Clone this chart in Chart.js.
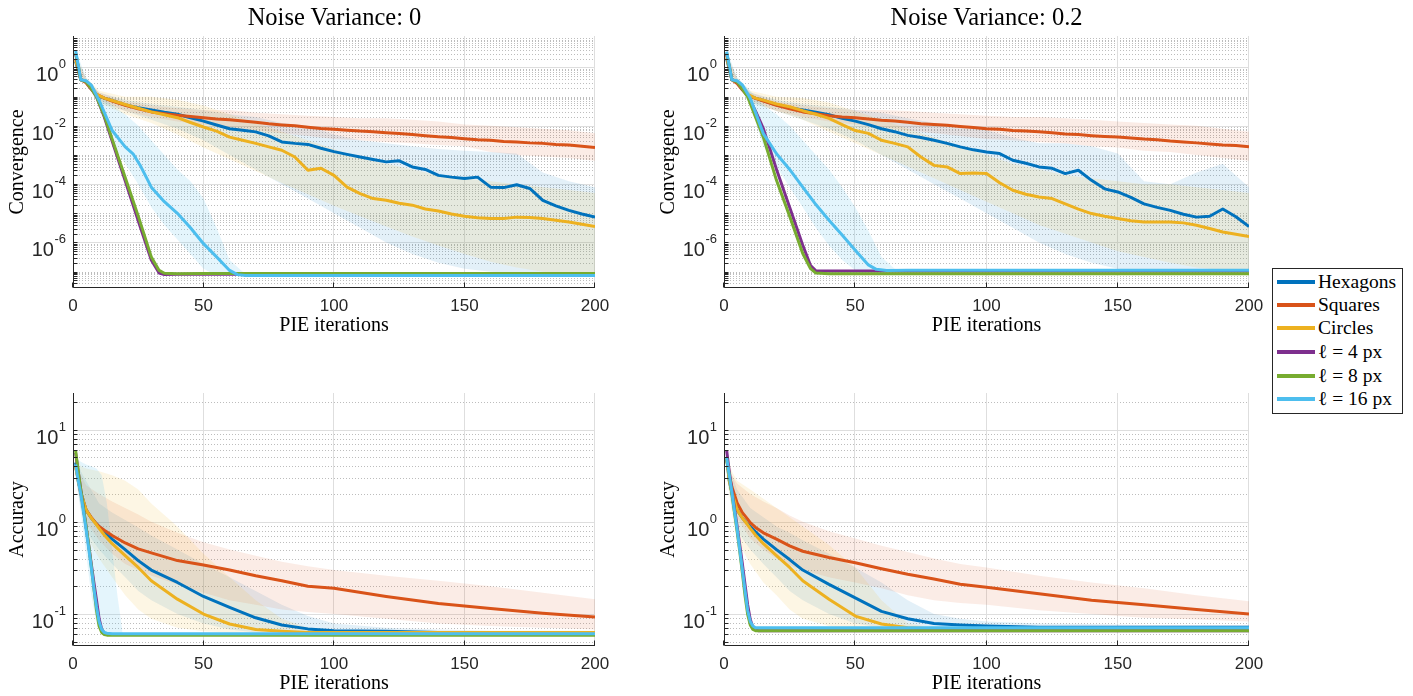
<!DOCTYPE html>
<html>
<head>
<meta charset="utf-8">
<script src="https://cdn.jsdelivr.net/npm/chart.js@4.4.1/dist/chart.umd.min.js"></script>
<style>
  html, body { margin: 0; background: #fff; }
  #page { position: relative; width: 1413px; height: 696px; overflow: hidden; }
  canvas { position: absolute; }
  .ttl { position: absolute; top: 3px; width: 525px; text-align: center; font-family: "Liberation Serif", "Times New Roman", serif; font-size: 24.5px; line-height: 28px; color: #000; }
  #legend { position: absolute; left: 1272px; top: 268px; width: 129px; height: 144px; border: 1px solid #262626; background: #fff; font-family: "Liberation Serif", "Times New Roman", serif; font-size: 19.5px; color: #000; }
  .row { position: absolute; left: 4px; height: 22px; display: flex; align-items: center; white-space: nowrap; }
  .sw { display: inline-block; width: 38px; height: 4px; margin-right: 3px; }
</style>
</head>
<body>
<div id="page">
  <canvas id="convNoise0" width="640" height="345" style="left:0;top:0"></canvas>
  <canvas id="convNoise2" width="630" height="345" style="left:640px;top:0"></canvas>
  <canvas id="accNoise0" width="640" height="336" style="left:0;top:360px"></canvas>
  <canvas id="accNoise2" width="630" height="336" style="left:640px;top:360px"></canvas>
  <div class="ttl" style="left:72px">Noise Variance: 0</div>
  <div class="ttl" style="left:724px">Noise Variance: 0.2</div>
  <div id="legend"></div>
</div>
<script>
// ---------- data ----------
const seriesNames = ["Hexagons", "Squares", "Circles", "\u2113 = 4 px", "\u2113 = 8 px", "\u2113 = 16 px"];

// convergence panels (top row)
const iterC = [1, 3, 5, 7, 9, 12, 15, 20, 25, 30, 35, 40, 45, 50, 55, 60, 65, 70, 75, 80, 85, 90, 95, 100,
  105, 110, 115, 120, 125, 130, 135, 140, 145, 150, 155, 160, 165, 170, 175, 180, 185, 190, 195, 200];
const lineIt = [1, 3, 5, 7, 9, 12, 15, 20, 25, 30, 33, 35, 40, 50, 75, 100, 125, 150, 175, 200];
const bandIt = [1, 5, 10, 20, 30, 40, 50, 60, 70, 80, 90, 100, 110, 120, 130, 140, 150, 160, 170, 180, 190, 200];
const l16BandIt = [1, 5, 10, 15, 20, 25, 30, 35, 40, 45, 50, 55, 60, 65, 70];

// noise variance 0
const hexConv0 = [1.6, 0.38, 0.32, 0.19, 0.11, 0.089, 0.074, 0.052, 0.042, 0.035, 0.029, 0.025, 0.019, 0.0145,
  0.0107, 0.0079, 0.0071, 0.0062, 0.0045, 0.0028, 0.0025, 0.0023, 0.0017, 0.0013, 0.00105, 0.00085, 0.0007,
  0.00058, 0.00063, 0.00039, 0.00032, 0.0002, 0.000174, 0.000155, 0.000174, 7.9e-5, 7.6e-5, 9.5e-5, 7.1e-5,
  2.8e-5, 1.8e-5, 1.26e-5, 9.5e-6, 7.4e-6];
const sqConv0 = [2.0, 0.38, 0.30, 0.18, 0.12, 0.089, 0.071, 0.05, 0.038, 0.030, 0.026, 0.023, 0.021, 0.019,
  0.017, 0.016, 0.0145, 0.0132, 0.0117, 0.0107, 0.01, 0.0089, 0.0081, 0.0076, 0.0071, 0.0066, 0.0063, 0.0058,
  0.0054, 0.005, 0.0046, 0.0042, 0.004, 0.0036, 0.0033, 0.0032, 0.0029, 0.0028, 0.0026, 0.0025, 0.0023,
  0.0022, 0.002, 0.0018];
const cirConv0 = [1.8, 0.38, 0.32, 0.19, 0.12, 0.089, 0.074, 0.054, 0.04, 0.03, 0.024, 0.019, 0.013, 0.0091,
  0.0066, 0.0041, 0.0032, 0.0025, 0.0019, 0.00145, 0.00085, 0.0003, 0.00035, 0.0002, 7.9e-5, 4.7e-5, 3.2e-5,
  2.8e-5, 2.2e-5, 1.9e-5, 1.4e-5, 1.2e-5, 9.5e-6, 7.9e-6, 7.1e-6, 6.6e-6, 6.6e-6, 7.4e-6, 7.2e-6, 6.6e-6,
  5.8e-6, 5e-6, 4.2e-6, 3.5e-6];
const l4Conv0 = [3.0, 0.38, 0.33, 0.19, 0.1, 0.02, 0.003, 1.3e-4, 5.5e-6, 2.5e-7, 9e-8, 8e-8, 8.1e-8, 8.2e-8,
  8.1e-8, 8.2e-8, 8.1e-8, 8.2e-8, 8.1e-8, 8.2e-8];
const l8Conv0 = [3.2, 0.38, 0.33, 0.19, 0.1, 0.022, 0.0035, 1.7e-4, 8e-6, 3.2e-7, 1.1e-7, 8.8e-8, 8.5e-8, 8.7e-8,
  8.6e-8, 8.7e-8, 8.6e-8, 8.7e-8, 8.6e-8, 8.7e-8];
const l16It0 = [1, 3, 5, 7, 10, 15, 20, 23, 26, 30, 35, 40, 45, 50, 55, 60, 63, 66, 70, 100, 150, 200];
const l16Conv0 = [3.8, 0.38, 0.35, 0.25, 0.074, 0.0069, 0.0019, 0.0011, 4e-4, 7.9e-5, 2.5e-5, 1e-5, 3.2e-6,
  9.1e-7, 3.2e-7, 1.1e-7, 7.9e-8, 7.4e-8, 7.4e-8, 7.4e-8, 7.4e-8, 7.4e-8];

const hexHi0 = [2.5, 0.4, 0.14, 0.079, 0.056, 0.045, 0.035, 0.025, 0.02, 0.0126, 0.01, 0.005, 0.0032, 0.0025,
  0.002, 0.0016, 0.0014, 0.00126, 0.00112, 2.5e-4, 1.26e-4, 7.9e-5];
const hexLo0 = [1.26, 0.25, 0.063, 0.032, 0.016, 0.0079, 0.0032, 1e-3, 3.2e-4, 1e-4, 3.2e-5, 1e-5, 3.2e-6, 1e-6,
  4e-7, 2e-7, 1.26e-7, 1e-7, 8.9e-8, 8.9e-8, 8.9e-8, 8.9e-8];
const sqHi0 = [2.5, 0.4, 0.14, 0.07, 0.05, 0.04, 0.035, 0.035, 0.028, 0.025, 0.022, 0.02, 0.018, 0.018, 0.016,
  0.014, 0.011, 0.01, 0.0089, 0.0079, 0.0071, 0.0056];
const sqLo0 = [1.26, 0.25, 0.079, 0.032, 0.02, 0.014, 0.011, 0.0089, 0.0071, 0.0056, 0.0045, 0.0035, 0.0032,
  0.0028, 0.0025, 0.0022, 0.002, 0.00126, 0.001, 0.00089, 0.00079, 0.00063];
const cirHi0 = [2.5, 0.45, 0.16, 0.1, 0.1, 0.079, 0.05, 0.025, 0.0126, 0.0063, 0.0032, 0.0016, 7.9e-4, 5e-4,
  3.2e-4, 2e-4, 1.6e-4, 1.26e-4, 1e-4, 7.9e-5, 6.3e-5, 5e-5];
const cirLo0 = [1.26, 0.25, 0.063, 0.025, 0.0126, 0.005, 0.0018, 7.1e-4, 2.8e-4, 1.1e-4, 4.5e-5, 1.8e-5, 7.9e-6,
  3.5e-6, 1.6e-6, 7.9e-7, 4e-7, 2.2e-7, 1.4e-7, 1e-7, 8.9e-8, 8.9e-8];
const l16Hi0 = [4.0, 0.45, 0.126, 0.05, 0.025, 0.01, 0.0032, 1e-3, 3.2e-4, 1.26e-4, 3.2e-5, 3.2e-6, 2.5e-7, 1e-7, 7.9e-8];
const l16Lo0 = [3.2, 0.32, 0.05, 0.0025, 5e-4, 1e-4, 1.6e-5, 4e-6, 1.26e-6, 4e-7, 1.26e-7, 7.4e-8, 7.4e-8, 7.4e-8, 7.4e-8];

// noise variance 0.2
const hexConv2 = [2.0, 0.38, 0.32, 0.19, 0.11, 0.089, 0.074, 0.052, 0.042, 0.035, 0.029, 0.024, 0.018, 0.0145,
  0.011, 0.0079, 0.0063, 0.0047, 0.004, 0.0032, 0.0025, 0.0019, 0.0015, 0.00126, 0.00112, 0.00066, 0.00052,
  0.00039, 0.00035, 0.00023, 0.0003, 0.000135, 6.9e-5, 5.4e-5, 3.5e-5, 2.1e-5, 1.6e-5, 1.26e-5, 9.3e-6,
  7.4e-6, 7.9e-6, 1.4e-5, 7.6e-6, 3.5e-6];
const sqConv2 = [2.8, 0.38, 0.28, 0.17, 0.11, 0.087, 0.071, 0.05, 0.038, 0.03, 0.026, 0.022, 0.02, 0.019, 0.017,
  0.0155, 0.0145, 0.0132, 0.0117, 0.011, 0.0105, 0.0095, 0.0087, 0.0079, 0.0076, 0.0069, 0.0066, 0.0063,
  0.0058, 0.0052, 0.005, 0.0046, 0.0043, 0.0041, 0.0038, 0.0035, 0.0033, 0.003, 0.0028, 0.0026, 0.0024,
  0.0022, 0.0021, 0.0019];
const cirConv2 = [2.2, 0.38, 0.32, 0.19, 0.12, 0.089, 0.076, 0.056, 0.045, 0.033, 0.025, 0.018, 0.011, 0.0069,
  0.0055, 0.0032, 0.0025, 0.0019, 0.00085, 0.00044, 0.00039, 0.00023, 0.00024, 0.00023, 0.000112, 6.2e-5,
  4.5e-5, 3.6e-5, 3.2e-5, 2.1e-5, 1.4e-5, 9.8e-6, 7.9e-6, 6.6e-6, 5.6e-6, 5e-6, 5e-6, 5e-6, 4.7e-6, 3.9e-6,
  3e-6, 2.3e-6, 1.9e-6, 1.6e-6];
const l4Conv2 = [3.0, 0.38, 0.32, 0.18, 0.11, 0.032, 0.008, 3.2e-4, 1.6e-5, 8e-7, 1.6e-7, 1.07e-7, 1.05e-7,
  1.05e-7, 1.05e-7, 1.05e-7, 1.05e-7, 1.05e-7, 1.05e-7, 1.05e-7];
const l8Conv2 = [3.2, 0.38, 0.32, 0.18, 0.1, 0.02, 0.004, 1.35e-4, 8e-6, 4.2e-7, 1.26e-7, 8.9e-8, 8.5e-8, 8.5e-8,
  8.5e-8, 8.5e-8, 8.5e-8, 8.5e-8, 8.5e-8, 8.5e-8];
const l16It2 = [1, 3, 5, 7, 10, 15, 20, 25, 30, 35, 40, 45, 50, 55, 58, 62, 70, 100, 150, 200];
const l16Conv2 = [3.5, 0.38, 0.35, 0.25, 0.089, 0.0054, 0.0011, 3.2e-4, 7.9e-5, 2e-5, 5.8e-6, 1.8e-6, 5.4e-7,
  1.7e-7, 1.2e-7, 1.1e-7, 1.12e-7, 1.12e-7, 1.12e-7, 1.12e-7];

const hexHi2 = [2.5, 0.4, 0.14, 0.079, 0.056, 0.045, 0.035, 0.028, 0.018, 0.0126, 0.01, 0.0071, 0.004, 0.0025,
  0.0025, 0.002, 0.00112, 1.26e-4, 1e-4, 2.5e-4, 5e-4, 7.9e-5];
const hexLo2 = [1.26, 0.25, 0.063, 0.032, 0.016, 0.0079, 0.0032, 1e-3, 3.2e-4, 1e-4, 3.2e-5, 1e-5, 3.2e-6, 1e-6,
  4e-7, 2e-7, 1.26e-7, 1e-7, 8.9e-8, 8.9e-8, 8.9e-8, 8.9e-8];
const sqHi2 = [3.2, 0.4, 0.14, 0.07, 0.05, 0.04, 0.035, 0.035, 0.032, 0.028, 0.025, 0.022, 0.02, 0.02, 0.018,
  0.016, 0.014, 0.0126, 0.0112, 0.01, 0.0079, 0.0063];
const sqLo2 = [1.58, 0.25, 0.079, 0.032, 0.02, 0.014, 0.011, 0.0089, 0.0071, 0.0056, 0.0045, 0.0035, 0.0032,
  0.0028, 0.0025, 0.002, 0.0018, 0.0014, 0.00126, 0.001, 7.9e-4, 6.3e-4];
const cirHi2 = [2.5, 0.45, 0.16, 0.1, 0.089, 0.063, 0.032, 0.016, 0.0079, 0.004, 0.002, 1e-3, 5e-4, 3.2e-4,
  2e-4, 1.6e-4, 1.26e-4, 1e-4, 1e-4, 7.9e-5, 6.3e-5, 5e-5];
const cirLo2 = [1.26, 0.25, 0.063, 0.032, 0.016, 0.0063, 0.0025, 1e-3, 4e-4, 1.6e-4, 6.3e-5, 2.5e-5, 1e-5, 4e-6,
  2e-6, 1e-6, 5e-7, 3.2e-7, 2e-7, 1.4e-7, 1.12e-7, 1e-7];
const l16Hi2 = [4.0, 0.45, 0.16, 0.05, 0.025, 0.01, 0.0032, 1e-3, 3.2e-4, 7.9e-5, 1.6e-5, 2.5e-6, 3.2e-7, 1.26e-7, 1.12e-7];
const l16Lo2 = [3.2, 0.32, 0.05, 0.002, 4e-4, 7.9e-5, 1.6e-5, 3.2e-6, 7.9e-7, 2.5e-7, 1.12e-7, 1e-7, 1e-7, 1e-7, 1e-7];

// accuracy panels (bottom row)
const iterA = [1, 2, 3, 5, 7, 9, 10, 12, 15, 20, 25, 30, 40, 50, 60, 70, 80, 90, 100, 120, 140, 160, 180, 200];
const lineItA = [1, 2, 3, 4, 5, 6, 7, 8, 9, 10, 11, 12, 13, 15, 20, 50, 100, 150, 200];
const bandItA = [1, 3, 5, 10, 15, 20, 25, 30, 40, 50, 60, 70, 80, 90, 100, 120, 140, 160, 180, 200];
const l16BandItA = [1, 3, 5, 7, 9, 11, 13, 15, 17, 19];

const hexAcc0 = [4.4, 2.8, 2.1, 1.35, 1.1, 0.95, 0.89, 0.78, 0.65, 0.5, 0.38, 0.3, 0.22, 0.155, 0.118, 0.091,
  0.076, 0.069, 0.066, 0.065, 0.063, 0.063, 0.063, 0.063];
const sqAcc0 = [4.0, 2.9, 2.0, 1.35, 1.12, 0.95, 0.89, 0.81, 0.71, 0.59, 0.51, 0.46, 0.38, 0.34, 0.3, 0.26, 0.23,
  0.2, 0.19, 0.155, 0.13, 0.115, 0.102, 0.093];
const cirAcc0 = [4.0, 2.8, 2.1, 1.35, 1.1, 0.93, 0.85, 0.72, 0.58, 0.43, 0.32, 0.23, 0.145, 0.1, 0.078, 0.068,
  0.065, 0.063, 0.063, 0.063, 0.063, 0.063, 0.063, 0.063];
const l4Acc0 = [5.6, 3.5, 2.2, 1.4, 0.89, 0.56, 0.35, 0.22, 0.141, 0.089, 0.068, 0.062, 0.06, 0.06, 0.06, 0.06,
  0.06, 0.06, 0.06];
const l8Acc0 = [5.9, 3.5, 2.2, 1.4, 0.89, 0.56, 0.33, 0.19, 0.11, 0.074, 0.063, 0.06, 0.059, 0.059, 0.059, 0.059,
  0.059, 0.059, 0.059];
const l16Acc0 = [4.2, 2.8, 2.0, 1.3, 0.83, 0.52, 0.32, 0.19, 0.12, 0.083, 0.068, 0.063, 0.062, 0.061, 0.061,
  0.061, 0.061, 0.061, 0.061];

const hexAccHi0 = [5.6, 3.55, 2.8, 1.58, 1.26, 1.05, 0.87, 0.71, 0.5, 0.35, 0.25, 0.178, 0.126, 0.095, 0.079,
  0.071, 0.068, 0.066, 0.066, 0.066];
const hexAccLo0 = [3.2, 1.41, 0.79, 0.5, 0.35, 0.25, 0.178, 0.141, 0.1, 0.079, 0.068, 0.063, 0.062, 0.062, 0.062,
  0.062, 0.062, 0.062, 0.062, 0.062];
const sqAccHi0 = [5.6, 3.2, 2.5, 2.0, 1.66, 1.41, 1.2, 1.0, 0.76, 0.6, 0.5, 0.43, 0.37, 0.33, 0.3, 0.26, 0.23,
  0.2, 0.17, 0.145];
const sqAccLo0 = [3.2, 1.58, 1.0, 0.63, 0.45, 0.35, 0.3, 0.26, 0.21, 0.17, 0.141, 0.126, 0.112, 0.105, 0.1,
  0.089, 0.079, 0.074, 0.071, 0.068];
const cirAccHi0 = [5.6, 4.0, 3.8, 3.55, 3.2, 2.8, 2.24, 1.58, 0.89, 0.45, 0.25, 0.141, 0.089, 0.071, 0.066,
  0.065, 0.063, 0.063, 0.063, 0.063];
const cirAccLo0 = [3.2, 1.41, 0.71, 0.4, 0.25, 0.16, 0.112, 0.089, 0.071, 0.065, 0.063, 0.063, 0.063, 0.063,
  0.063, 0.063, 0.063, 0.063, 0.063, 0.063];
const l16AccHi0 = [5.0, 4.5, 4.2, 4.0, 3.8, 3.2, 1.58, 0.5, 0.16, 0.063];
const l16AccLo0 = [3.2, 1.26, 0.45, 0.16, 0.079, 0.063, 0.06, 0.06, 0.06, 0.06];

const hexAcc2 = [5.0, 2.8, 2.1, 1.35, 1.1, 0.95, 0.89, 0.78, 0.65, 0.5, 0.39, 0.3, 0.21, 0.15, 0.107, 0.089,
  0.079, 0.076, 0.074, 0.072, 0.072, 0.072, 0.072, 0.072];
const sqAcc2 = [5.0, 3.2, 2.4, 1.6, 1.26, 1.07, 0.98, 0.87, 0.76, 0.65, 0.55, 0.48, 0.41, 0.36, 0.31, 0.27, 0.24,
  0.21, 0.195, 0.166, 0.141, 0.126, 0.112, 0.1];
const cirAcc2 = [5.0, 2.8, 2.1, 1.35, 1.1, 0.93, 0.85, 0.72, 0.58, 0.43, 0.32, 0.23, 0.145, 0.095, 0.078, 0.071,
  0.069, 0.068, 0.068, 0.068, 0.068, 0.068, 0.068, 0.068];
const l4Acc2 = [6.0, 3.5, 2.2, 1.4, 0.89, 0.56, 0.35, 0.21, 0.126, 0.087, 0.072, 0.068, 0.066, 0.066, 0.066,
  0.066, 0.066, 0.066, 0.066];
const l8Acc2 = [4.8, 3.2, 2.0, 1.26, 0.79, 0.48, 0.28, 0.16, 0.1, 0.076, 0.068, 0.066, 0.066, 0.066, 0.066,
  0.066, 0.066, 0.066, 0.066];
const l16Acc2 = [5.0, 3.2, 2.1, 1.3, 0.83, 0.5, 0.3, 0.18, 0.11, 0.083, 0.074, 0.071, 0.071, 0.071, 0.071,
  0.071, 0.071, 0.071, 0.071];

const hexAccHi2 = [5.6, 3.2, 2.24, 1.41, 1.12, 0.89, 0.76, 0.63, 0.45, 0.32, 0.22, 0.141, 0.1, 0.089, 0.083,
  0.079, 0.078, 0.076, 0.076, 0.076];
const hexAccLo2 = [3.2, 1.41, 0.79, 0.5, 0.35, 0.25, 0.178, 0.141, 0.1, 0.079, 0.071, 0.068, 0.066, 0.066,
  0.066, 0.066, 0.066, 0.066, 0.066, 0.066];
const sqAccHi2 = [5.6, 3.2, 2.6, 2.0, 1.66, 1.41, 1.17, 1.0, 0.79, 0.66, 0.55, 0.47, 0.4, 0.35, 0.32, 0.26,
  0.22, 0.19, 0.16, 0.138];
const sqAccLo2 = [3.55, 1.78, 1.12, 0.66, 0.5, 0.4, 0.34, 0.3, 0.25, 0.22, 0.19, 0.16, 0.141, 0.132, 0.126,
  0.11, 0.1, 0.091, 0.087, 0.083];
const cirAccHi2 = [5.6, 3.55, 2.8, 2.24, 1.78, 1.41, 1.12, 0.89, 0.56, 0.32, 0.141, 0.079, 0.071, 0.069, 0.068,
  0.068, 0.068, 0.068, 0.068, 0.068];
const cirAccLo2 = [3.2, 1.26, 0.63, 0.35, 0.22, 0.16, 0.112, 0.089, 0.074, 0.068, 0.066, 0.066, 0.066, 0.066,
  0.066, 0.066, 0.066, 0.066, 0.066, 0.066];

// ---------- styling ----------
const colors = ["#0072BD", "#D95319", "#EDB120", "#7E2F8E", "#77AC30", "#4DBEEE"];
const bandColors = ["rgba(0,114,189,0.11)", "rgba(217,83,25,0.11)", "rgba(237,177,32,0.12)",
  "rgba(126,47,142,0.1)", "rgba(119,172,48,0.1)", "rgba(77,190,238,0.15)"];
const sansFont = '"Liberation Sans", Arial, sans-serif';
const serifFont = '"Liberation Serif", "Times New Roman", serif';
const inkColor = "#262626";

function pts(xs, ys) {
  return xs.map((x, i) => ({ x: x, y: ys[i] }));
}

function lineSet(k, xs, ys) {
  return {
    label: seriesNames[k], data: pts(xs, ys), borderColor: colors[k], borderWidth: 3,
    pointRadius: 0, fill: false, tension: 0, borderJoinStyle: "round", order: 10 - k
  };
}

function bandSet(k, xs, hi, lo) {
  return [
    { data: pts(xs, hi), borderColor: "rgba(0,0,0,0)", borderWidth: 0, pointRadius: 0,
      backgroundColor: bandColors[k], fill: "+1", order: 30 - k },
    { data: pts(xs, lo), borderColor: "rgba(0,0,0,0)", borderWidth: 0, pointRadius: 0,
      fill: false, order: 30 - k }
  ];
}

// grid, axes and tick labels drawn the MATLAB way
const matlabAxes = {
  id: "matlabAxes",
  beforeDatasetsDraw(chart, args, opts) {
    const { ctx, chartArea: a, scales: { x, y } } = chart;
    ctx.save();
    ctx.lineWidth = 1;
    // dotted minor grid
    ctx.strokeStyle = "rgba(38,38,38,0.3)";
    ctx.setLineDash([1, 2]);
    minorValues(y.min, y.max, opts.exps).forEach(v => {
      const p = Math.round(y.getPixelForValue(v)) + 0.5;
      ctx.beginPath(); ctx.moveTo(a.left, p); ctx.lineTo(a.right, p); ctx.stroke();
    });
    ctx.setLineDash([]);
    ctx.strokeStyle = "#dedede";
    opts.exps.forEach(e => {
      const p = Math.round(y.getPixelForValue(Math.pow(10, e))) + 0.5;
      ctx.beginPath(); ctx.moveTo(a.left, p); ctx.lineTo(a.right, p); ctx.stroke();
    });
    [50, 100, 150, 200].forEach(v => {
      const p = Math.round(x.getPixelForValue(v)) - 0.5;
      ctx.beginPath(); ctx.moveTo(p, a.top); ctx.lineTo(p, a.bottom); ctx.stroke();
    });
    ctx.restore();
  },
  afterDatasetsDraw(chart, args, opts) {
    const { ctx, chartArea: a, scales: { x, y } } = chart;
    ctx.save();
    ctx.strokeStyle = inkColor;
    ctx.lineWidth = 1;
    const L = a.left + 0.5, B = a.bottom - 0.5;
    ctx.beginPath(); ctx.moveTo(L, a.top); ctx.lineTo(L, B); ctx.lineTo(a.right, B); ctx.stroke();
    // inward ticks
    const allY = minorValues(y.min, y.max, opts.exps).concat(opts.exps.map(e => Math.pow(10, e)));
    allY.forEach(v => {
      const p = Math.round(y.getPixelForValue(v)) + 0.5;
      ctx.beginPath(); ctx.moveTo(L, p); ctx.lineTo(L + 4, p); ctx.stroke();
    });
    [0, 50, 100, 150, 200].forEach(v => {
      const p = Math.round(x.getPixelForValue(v)) - 0.5;
      ctx.beginPath(); ctx.moveTo(p, B); ctx.lineTo(p, B - 5); ctx.stroke();
    });
    // y tick labels 10^k
    ctx.fillStyle = inkColor;
    ctx.textAlign = "right";
    ctx.textBaseline = "alphabetic";
    opts.exps.forEach(e => {
      const p = y.getPixelForValue(Math.pow(10, e));
      ctx.font = "13px " + sansFont;
      const ex = String(e);
      ctx.fillText(ex, a.left - 7, p + 1);
      const w = ctx.measureText(ex).width;
      ctx.font = "20px " + sansFont;
      ctx.fillText("10", a.left - 7 - w - 0.5, p + 14);
    });
    ctx.restore();
  }
};

function minorValues(min, max, exps) {
  const out = [];
  for (let e = Math.floor(Math.log10(min)); e <= Math.ceil(Math.log10(max)); e++) {
    for (let m = 1; m <= 9; m++) {
      if (m === 1 && exps.includes(e)) continue;
      const v = m * Math.pow(10, e);
      if (v > min && v < max) out.push(v);
    }
  }
  return out;
}

function panel(id, geo, yMin, yMax, exps, yTitle, datasets) {
  const canvas = document.getElementById(id);
  return new Chart(canvas.getContext("2d"), {
    type: "line",
    data: { datasets: datasets },
    options: {
      responsive: false,
      animation: false,
      events: [],
      layout: { padding: { left: 0, top: geo.top, right: canvas.width - geo.right, bottom: 0 } },
      plugins: {
        legend: { display: false },
        tooltip: { enabled: false },
        matlabAxes: { exps: exps }
      },
      scales: {
        x: {
          type: "linear", min: 0, max: 200,
          grid: { display: false }, border: { display: false },
          ticks: { stepSize: 50, maxRotation: 0, padding: 0, color: inkColor, font: { family: sansFont, size: 17 } },
          title: { display: true, text: "PIE iterations", color: "#000",
            font: { family: serifFont, size: 20 }, padding: { top: 0, bottom: geo.xTitlePad } },
          afterFit: s => { s.height = canvas.height - geo.bottom; }
        },
        y: {
          type: "logarithmic", min: yMin, max: yMax,
          grid: { display: false }, border: { display: false },
          ticks: { display: false },
          title: { display: true, text: yTitle, color: "#000",
            font: { family: serifFont, size: 20 }, padding: { top: geo.left - 67, bottom: 0 } },
          afterFit: s => { s.width = geo.left; }
        }
      }
    },
    plugins: [matlabAxes]
  });
}

const convExps = [-6, -4, -2, 0];
const accExps = [-1, 0, 1];

panel("convNoise0", { left: 73, top: 36, right: 595, bottom: 288, xTitlePad: 7 }, 2.75e-8, 12, convExps, "Convergence", [
  lineSet(0, iterC, hexConv0), lineSet(1, iterC, sqConv0), lineSet(2, iterC, cirConv0),
  lineSet(3, lineIt, l4Conv0), lineSet(4, lineIt, l8Conv0), lineSet(5, l16It0, l16Conv0),
  ...bandSet(0, bandIt, hexHi0, hexLo0), ...bandSet(1, bandIt, sqHi0, sqLo0),
  ...bandSet(2, bandIt, cirHi0, cirLo0), ...bandSet(5, l16BandIt, l16Hi0, l16Lo0)
]);

panel("convNoise2", { left: 84, top: 36, right: 609, bottom: 288, xTitlePad: 7 }, 2.75e-8, 12, convExps, "Convergence", [
  lineSet(0, iterC, hexConv2), lineSet(1, iterC, sqConv2), lineSet(2, iterC, cirConv2),
  lineSet(3, lineIt, l4Conv2), lineSet(4, lineIt, l8Conv2), lineSet(5, l16It2, l16Conv2),
  ...bandSet(0, bandIt, hexHi2, hexLo2), ...bandSet(1, bandIt, sqHi2, sqLo2),
  ...bandSet(2, bandIt, cirHi2, cirLo2), ...bandSet(5, l16BandIt, l16Hi2, l16Lo2)
]);

panel("accNoise0", { left: 73, top: 33, right: 595, bottom: 286, xTitlePad: 0 }, 0.045, 25, accExps, "Accuracy", [
  lineSet(0, iterA, hexAcc0), lineSet(1, iterA, sqAcc0), lineSet(2, iterA, cirAcc0),
  lineSet(3, lineItA, l4Acc0), lineSet(4, lineItA, l8Acc0), lineSet(5, lineItA, l16Acc0),
  ...bandSet(0, bandItA, hexAccHi0, hexAccLo0), ...bandSet(1, bandItA, sqAccHi0, sqAccLo0),
  ...bandSet(2, bandItA, cirAccHi0, cirAccLo0), ...bandSet(5, l16BandItA, l16AccHi0, l16AccLo0)
]);

panel("accNoise2", { left: 84, top: 33, right: 609, bottom: 286, xTitlePad: 0 }, 0.045, 25, accExps, "Accuracy", [
  lineSet(0, iterA, hexAcc2), lineSet(1, iterA, sqAcc2), lineSet(2, iterA, cirAcc2),
  lineSet(3, lineItA, l4Acc2), lineSet(4, lineItA, l8Acc2), lineSet(5, lineItA, l16Acc2),
  ...bandSet(0, bandItA, hexAccHi2, hexAccLo2), ...bandSet(1, bandItA, sqAccHi2, sqAccLo2),
  ...bandSet(2, bandItA, cirAccHi2, cirAccLo2)
]);

// legend box
const legend = document.getElementById("legend");
const rowTops = [2, 25, 48, 72, 96, 119];
seriesNames.forEach((name, k) => {
  const row = document.createElement("div");
  row.className = "row";
  row.style.top = rowTops[k] + "px";
  const sw = document.createElement("span");
  sw.className = "sw";
  sw.style.background = colors[k];
  const txt = document.createElement("span");
  txt.textContent = name;
  row.appendChild(sw);
  row.appendChild(txt);
  legend.appendChild(row);
});
</script>
</body>
</html>
